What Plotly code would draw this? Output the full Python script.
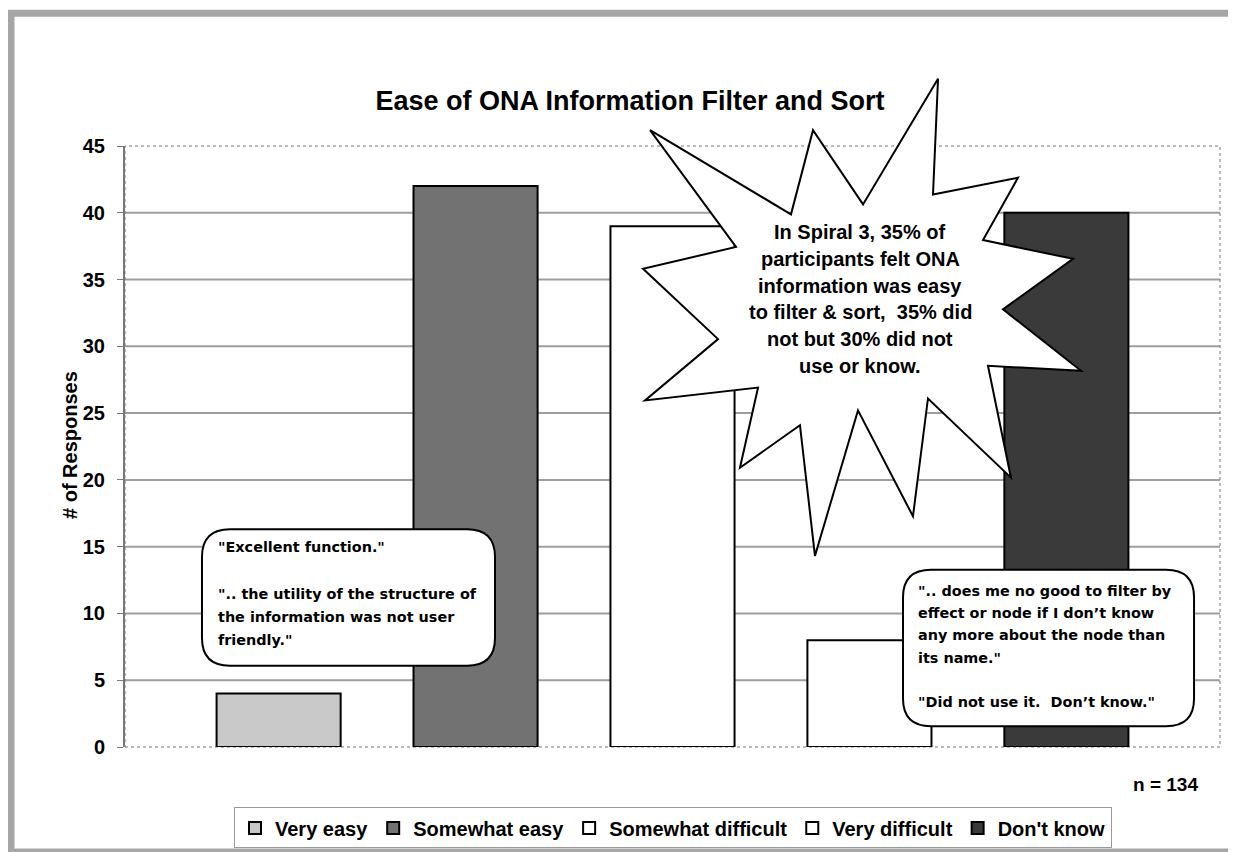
import plotly.graph_objects as go

# chart data
categories = ["Very easy", "Somewhat easy", "Somewhat difficult", "Very difficult", "Don't know"]
responses = [4, 42, 39, 8, 40]
bar_colors = ["#c9c9c9", "#727272", "#ffffff", "#ffffff", "#3a3a3a"]
y_ticks = [0, 5, 10, 15, 20, 25, 30, 35, 40, 45]

title_text = "Ease of ONA Information Filter and Sort"
burst_lines = ["In Spiral 3, 35% of", "participants felt ONA", "information was easy",
               "to filter &amp; sort,  35% did", "not but 30% did not", "use or know."]
left_lines = ['"Excellent function."', "", '".. the utility of the structure of',
              "the information was not user", 'friendly."']
right_lines = ['".. does me no good to filter by', "effect or node if I don’t know",
               "any more about the node than", 'its name."', "", '"Did not use it.  Don’t know."']

FONT = "Liberation Sans, Arial, sans-serif"
WIDE = "DejaVu Sans, Verdana, sans-serif"

# plot area in pixels (used to place the decorations)
L, R, T, B = 117, 1212, 138, 745


def px(x):
    return (x - L) / (R - L)


def py(y):
    return (B - y) / (B - T)


def path(points):
    return "M " + " L ".join(f"{px(x):.4f},{py(y):.4f}" for x, y in points) + " Z"


def rrect(x0, y0, x1, y1, r):
    p = lambda x, y: f"{px(x):.4f},{py(y):.4f}"
    return (f"M {p(x0 + r, y0)} L {p(x1 - r, y0)} Q {p(x1, y0)} {p(x1, y0 + r)} "
            f"L {p(x1, y1 - r)} Q {p(x1, y1)} {p(x1 - r, y1)} L {p(x0 + r, y1)} "
            f"Q {p(x0, y1)} {p(x0, y1 - r)} L {p(x0, y0 + r)} Q {p(x0, y0)} {p(x0 + r, y0)} Z")


fig = go.Figure()
for cat, val, col in zip(categories, responses, bar_colors):
    fig.add_trace(go.Bar(name=cat, x=[cat], y=[val], width=0.63,
                         marker=dict(color=col, line=dict(color="black", width=2))))

shapes = []
# gridlines
for v in y_ticks[1:-1]:
    shapes.append(dict(type="line", xref="paper", yref="y", x0=0, x1=1, y0=v, y1=v,
                       line=dict(color="#9e9e9e", width=2), layer="below"))
# dotted plot border
shapes.append(dict(type="rect", xref="paper", yref="paper", x0=0, x1=1, y0=0, y1=1,
                   line=dict(color="#777", width=1, dash="dot"), layer="below"))
# outer frame
shapes.append(dict(type="rect", xref="paper", yref="paper", x0=px(3), x1=px(1233),
                   y0=py(851), y1=py(4), line=dict(color="#a6a6a6", width=7)))

burst = [(930, 70), (925, 187), (1010, 170), (975, 233), (1065, 252), (995, 303),
         (1073, 365), (980, 360), (1003, 473), (920, 393), (905, 512), (850, 405),
         (807, 552), (792, 420), (732, 463), (750, 382), (637, 395), (710, 333),
         (635, 262), (728, 240), (642, 122), (783, 207), (805, 122), (855, 197)]
shapes.append(dict(type="path", xref="paper", yref="paper", path=path(burst),
                   fillcolor="white", line=dict(color="black", width=2)))
shapes.append(dict(type="path", xref="paper", yref="paper", path=rrect(194, 525, 487, 663, 28),
                   fillcolor="white", line=dict(color="black", width=2)))
shapes.append(dict(type="path", xref="paper", yref="paper", path=rrect(895, 566, 1186, 724, 28),
                   fillcolor="white", line=dict(color="black", width=2)))

ann = []
for i, t in enumerate(burst_lines):
    ann.append(dict(text=t, x=px(852), y=py(225 + 27 * i), xref="paper", yref="paper",
                    showarrow=False, xanchor="center", yanchor="middle",
                    font=dict(family=FONT, size=20, color="black", weight="bold")))
for i, t in enumerate(left_lines):
    if t:
        ann.append(dict(text=t, x=px(208), y=py(543 + 23.5 * i), xref="paper", yref="paper",
                        showarrow=False, xanchor="left", yanchor="middle",
                        font=dict(family=WIDE, size=14.4, color="black", weight="bold")))
for i, t in enumerate(right_lines):
    if t:
        ann.append(dict(text=t, x=px(908), y=py(587 + 22.6 * i), xref="paper", yref="paper",
                        showarrow=False, xanchor="left", yanchor="middle",
                        font=dict(family=WIDE, size=14.4, color="black", weight="bold")))
ann.append(dict(text="n = 134", x=px(1192), y=py(783), xref="paper", yref="paper",
                showarrow=False, xanchor="right", yanchor="middle",
                font=dict(family=FONT, size=19, color="black", weight="bold")))
ann.append(dict(text="# of Responses", x=px(62), y=py(440), xref="paper", yref="paper",
                showarrow=False, textangle=-90, xanchor="center", yanchor="middle",
                font=dict(family=FONT, size=20, color="black", weight="bold")))

fig.update_layout(
    width=1236, height=852,
    margin=dict(l=L, r=1236 - R, t=T, b=852 - B),
    paper_bgcolor="white", plot_bgcolor="white",
    barmode="overlay",
    title=dict(text=title_text, x=622 / 1236, xanchor="center", y=1 - 93 / 852, yanchor="middle",
               font=dict(family=FONT, size=27, color="black", weight="bold")),
    xaxis=dict(type="category", range=[-0.78, 4.78], showticklabels=False, showgrid=False,
               zeroline=False, showline=False, ticks=""),
    yaxis=dict(range=[0, 45], tickvals=y_ticks, showgrid=False, zeroline=False,
               showline=True, linecolor="#777", linewidth=2, ticks="outside", ticklen=6,
               tickcolor="#777", ticklabelstandoff=8,
               tickfont=dict(family=FONT, size=20, color="black", weight="bold")),
    legend=dict(orientation="h", x=px(665), xanchor="center", y=py(806), yanchor="top",
                bgcolor="white", bordercolor="#999", borderwidth=1, itemwidth=30,
                font=dict(family=FONT, size=20, color="black", weight="bold"),
                itemclick=False),
    shapes=shapes, annotations=ann, showlegend=True,
)

fig.write_html("out.html")
